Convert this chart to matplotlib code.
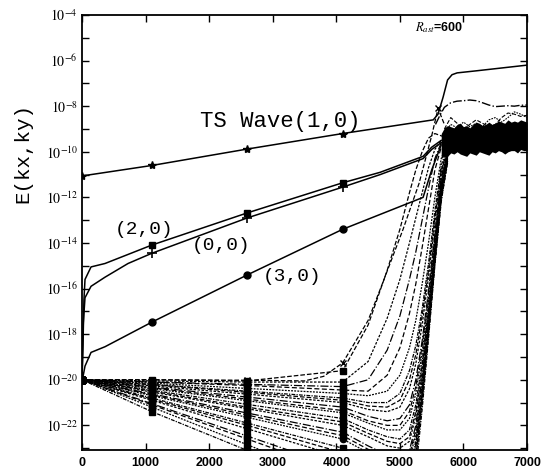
import numpy as np
import matplotlib
matplotlib.use("Agg")
import matplotlib.pyplot as plt

plt.rcParams["mathtext.fontset"] = "stix"

# all energies are given as log10(E)

# TS wave (1,0)
ts_x = [0, 1100, 2600, 4100, 5525, 5600, 5680, 5750, 5820, 5900, 6200, 7000]
ts_y = [-11.06, -10.6, -9.88, -9.2, -8.6, -8.35, -7.6, -6.85, -6.62, -6.54, -6.45, -6.2]
ts_marks = [0, 1, 2, 3]

# (2,0)
m20_x = [0, 15, 30, 47, 142, 362, 1100, 2600, 4100, 4690, 5365, 5500, 5650]
m20_y = [-20, -18.5, -16.5, -15.6, -15.05, -14.9, -14.09, -12.68, -11.36, -10.9, -10.2, -9.8, -9.5]
m20_marks = [6, 7, 8]

# (0,0)
m00_x = [0, 20, 47, 142, 362, 724, 1100, 2600, 4100, 4690, 5365, 5500, 5650]
m00_y = [-20, -17.5, -16.4, -15.9, -15.5, -14.9, -14.45, -12.9, -11.55, -11.0, -10.3, -9.9, -9.6]
m00_marks = [6, 7, 8]

# (3,0)
m30_x = [0, 20, 47, 142, 362, 1100, 2600, 4100, 5365, 5500, 5650]
m30_y = [-20, -19.8, -19.4, -18.8, -18.55, -17.47, -15.4, -13.4, -12.0, -10.8, -9.7]
m30_marks = [5, 6, 7]

# mode with "x" markers
mx_x = [0, 1100, 2600, 3500, 3800, 4100, 4500, 4750, 5050, 5300, 5500, 5600, 5700]
mx_y = [-20.0, -20.0, -20.02, -20.05, -19.85, -19.26, -17.4, -15.6, -13.4, -11.4, -9.3, -8.1, -8.8]
mx_marks = [1, 2, 5, 11]

# other modes, starting from 1e-20
bg_x = [0, 1100, 2600, 4100, 4500, 4800, 5000, 5150, 5250, 5350, 5450, 5550, 5650, 5750]
bg_marks = [0, 1, 2, 3]
bg_modes = [
    [-20, -20.0, -20.05, -19.6, -17.6, -15.2, -13.4, -11.8, -10.8, -10.0, -9.4, -9.2, -9.3, -9.4],
    [-20, -20.05, -20.1, -20.1, -19.2, -17.3, -15.6, -14.0, -12.9, -11.8, -10.7, -9.9, -9.5, -9.5],
    [-20, -20.1, -20.2, -20.3, -20.0, -18.7, -17.2, -15.6, -14.4, -13.0, -11.6, -10.3, -9.6, -9.6],
    [-20, -20.1, -20.25, -20.45, -20.5, -19.8, -18.6, -17.1, -15.8, -14.2, -12.5, -10.8, -9.8, -9.7],
    [-20, -20.15, -20.38, -20.6, -20.7, -20.5, -19.8, -18.6, -17.4, -15.8, -14.0, -12.0, -10.3, -9.6],
    [-20, -20.2, -20.5, -20.8, -21.0, -21.0, -20.6, -19.6, -18.5, -16.9, -14.9, -12.6, -10.6, -9.8],
    [-20, -20.22, -20.55, -20.9, -21.15, -21.2, -20.9, -20.0, -18.9, -17.2, -15.2, -12.9, -10.8, -9.9],
    [-20, -20.27, -20.63, -21.0, -21.3, -21.4, -21.2, -20.4, -19.3, -17.6, -15.5, -13.1, -10.9, -9.9],
    [-20, -20.32, -20.76, -21.2, -21.6, -21.8, -21.7, -21.1, -20.0, -18.3, -16.1, -13.6, -11.1, -10.0],
    [-20, -20.35, -20.85, -21.35, -21.8, -22.0, -22.0, -21.4, -20.3, -18.5, -16.3, -13.7, -11.2, -10.0],
    [-20, -20.39, -20.92, -21.45, -21.9, -22.2, -22.2, -21.7, -20.6, -18.8, -16.5, -13.9, -11.3, -10.1],
    [-20, -20.46, -21.08, -21.7, -22.2, -22.5, -22.6, -22.2, -21.1, -19.2, -16.8, -14.1, -11.4, -10.0],
    [-20, -20.5, -21.2, -21.85, -22.35, -22.7, -22.8, -22.5, -21.4, -19.4, -17.0, -14.2, -11.5, -10.2],
    [-20, -20.54, -21.27, -22.0, -22.5, -22.9, -23.0, -22.7, -21.6, -19.6, -17.1, -14.3, -11.5, -10.1],
    [-20, -20.62, -21.46, -22.3, -22.9, -23.3, -23.4, -23.1, -22.0, -19.9, -17.3, -14.4, -11.6, -10.2],
    [-20, -20.66, -21.55, -22.45, -23.05, -23.45, -23.6, -23.3, -22.2, -20.0, -17.4, -14.45, -11.65, -10.25],
    [-20, -20.7, -21.65, -22.6, -23.2, -23.6, -23.8, -23.5, -22.4, -20.2, -17.5, -14.5, -11.7, -10.3],
    [-20, -20.8, -21.9, -23.0, -23.6, -24.0, -24.2, -23.9, -22.7, -20.4, -17.6, -14.6, -11.8, -10.2],
    [-20, -20.85, -22.0, -23.2, -23.8, -24.2, -24.4, -24.0, -22.85, -20.5, -17.65, -14.65, -11.85, -10.3],
    [-20, -20.9, -22.15, -23.4, -24.0, -24.4, -24.6, -24.2, -23.0, -20.6, -17.7, -14.7, -11.9, -10.4],
    [-20, -21.05, -22.47, -23.9, -24.6, -25.0, -25.1, -24.6, -23.3, -20.8, -17.9, -14.8, -12.0, -10.3],
    [-20, -21.1, -22.6, -24.1, -24.8, -25.2, -25.3, -24.8, -23.45, -20.9, -17.95, -14.85, -12.05, -10.4],
    [-20, -21.2, -22.85, -24.5, -25.2, -25.6, -25.6, -25.0, -23.6, -21.0, -18.0, -14.9, -12.1, -10.5],
    [-20, -21.4, -23.1, -25.2, -25.9, -26.2, -26.2, -25.5, -24.0, -21.3, -18.2, -15.0, -12.2, -10.4],
]

# turbulent band after breakdown
band_x = [5650, 5700, 5750, 5800, 5850, 5900, 5950, 6000, 6050, 6100, 6150, 6200, 6250, 6300,
          6350, 6400, 6450, 6500, 6550, 6600, 6650, 6700, 6750, 6800, 6850, 6900, 6950, 7000]
band_hi = [-9.2, -8.95, -8.85, -8.9, -8.95, -8.8, -8.75, -8.9, -8.85, -8.95, -8.8, -8.7, -8.75, -8.85,
           -8.8, -8.7, -8.8, -8.75, -8.65, -8.7, -8.75, -8.6, -8.7, -8.65, -8.7, -8.6, -8.65, -8.7]
band_lo = [-10.3, -10.15, -10.2, -10.05, -10.1, -10.0, -10.1, -10.15, -10.2, -10.05, -10.1, -10.15, -10.0, -10.05,
           -10.1, -10.15, -10.0, -10.05, -9.95, -10.0, -10.1, -10.0, -9.95, -9.95, -10.05, -9.9, -9.95, -9.95]

# curves above the band
up1_x = [5560, 5630, 5700, 5800, 5900, 6000, 6100, 6200, 6300, 6400, 6500, 6600, 6700, 6800, 6900, 7000]
up1_y = [-8.8, -8.4, -8.05, -7.85, -7.78, -7.76, -7.73, -7.76, -7.85, -7.95, -8.02, -8.0, -7.98, -8.0, -7.96, -7.95]
up2_x = [5700, 5800, 5900, 6000, 6100, 6200, 6300, 6400, 6500, 6600, 6700, 6800, 6900, 7000]
up2_y = [-9.0, -8.5, -8.75, -9.0, -8.8, -8.6, -8.75, -8.9, -8.8, -8.5, -8.3, -8.35, -8.45, -8.4]
up3_x = [5700, 5800, 5900, 6000, 6100, 6200, 6300, 6400, 6500, 6600, 6700, 6800, 6900, 7000]
up3_y = [-9.2, -8.8, -8.95, -8.7, -8.9, -8.75, -8.9, -8.6, -8.5, -8.7, -8.5, -8.25, -8.35, -8.5]

x_ticks = [0, 1000, 2000, 3000, 4000, 5000, 6000, 7000]
y_tick_exps = [-4, -6, -8, -10, -12, -14, -16, -18, -20, -22]

bg_styles = ["--", (0, (2, 1.2)), "-.", (0, (4, 2)), (0, (1.5, 1)), (0, (3, 1, 1, 1))]


def p(v):
    return 10.0 ** np.array(v)


def main():
    fig = plt.figure(figsize=(5.41, 4.71), dpi=100)
    ax = fig.add_axes([0.1516, 0.0446, 0.8226, 0.9236])

    # decaying modes, then growth into the wall
    for i, mode in enumerate(bg_modes):
        mk = "o" if i == len(bg_modes) - 8 else "s"
        ax.plot(bg_x, p(mode), color="black", lw=0.9, ls=bg_styles[i % len(bg_styles)],
                marker=mk, markevery=bg_marks, ms=4.5)

    ax.fill_between(band_x, p(band_lo), p(band_hi), color="black", lw=0)
    ax.plot(up1_x, p(up1_y), color="black", lw=1.0, ls="-.")
    ax.plot(up2_x, p(up2_y), color="black", lw=0.8, ls="--")
    ax.plot(up3_x, p(up3_y), color="black", lw=0.8, ls=(0, (1.5, 1)))

    ax.plot(mx_x, p(mx_y), color="black", lw=0.9, ls="--", marker="x",
            markevery=mx_marks, ms=5)
    ax.plot(m30_x, p(m30_y), color="black", lw=1.1, marker="o", markevery=m30_marks, ms=5)
    ax.plot(m00_x, p(m00_y), color="black", lw=1.1, marker="+", markevery=m00_marks, ms=7, mew=1.2)
    ax.plot(m20_x, p(m20_y), color="black", lw=1.1, marker="s", markevery=m20_marks, ms=5)
    ax.plot(ts_x, p(ts_y), color="black", lw=1.1, marker="*", markevery=ts_marks, ms=6)

    ax.set_yscale("log")
    ax.set_xlim(0, 7000)
    ax.set_ylim(10 ** -23.08, 1e-4)

    ax.set_xticks(x_ticks)
    ax.set_xticklabels([str(t) for t in x_ticks], fontsize=9, fontweight="bold",
                       family="Liberation Sans")
    ax.set_yticks([10.0 ** e for e in y_tick_exps])
    ax.set_yticklabels([r"$10^{%d}$" % e for e in y_tick_exps], fontsize=10)
    ax.set_yticks([10.0 ** e for e in range(-23, -4, 2)], minor=True)
    ax.yaxis.set_minor_formatter(plt.NullFormatter())
    ax.tick_params(which="both", direction="in", top=True, right=True, width=1.0)
    ax.tick_params(which="major", length=5)
    ax.tick_params(which="minor", length=5)
    ax.tick_params(axis="x", pad=5)
    ax.tick_params(axis="y", pad=3)
    for s in ax.spines.values():
        s.set_linewidth(1.3)

    mono = "Liberation Mono"
    ax.text(1856, 10 ** -8.69, "TS Wave(1,0)", family=mono, fontsize=16, ha="left", va="center")
    ax.text(519, 10 ** -13.43, "(2,0)", family=mono, fontsize=14, ha="left", va="center")
    ax.text(1730, 10 ** -14.09, "(0,0)", family=mono, fontsize=14, ha="left", va="center")
    ax.text(2847, 10 ** -15.49, "(3,0)", family=mono, fontsize=14, ha="left", va="center")
    ax.text(5238, 10 ** -4.57, r"$R_{ast}$=600", family="Liberation Sans", fontsize=9,
            fontweight="bold", ha="left", va="center")

    fig.text(23 / 541, 1 - 153 / 471, "E(kx,ky)", family=mono, fontsize=15,
             rotation=90, ha="center", va="center")

    fig.savefig("out.png", dpi=100)


if __name__ == "__main__":
    main()
